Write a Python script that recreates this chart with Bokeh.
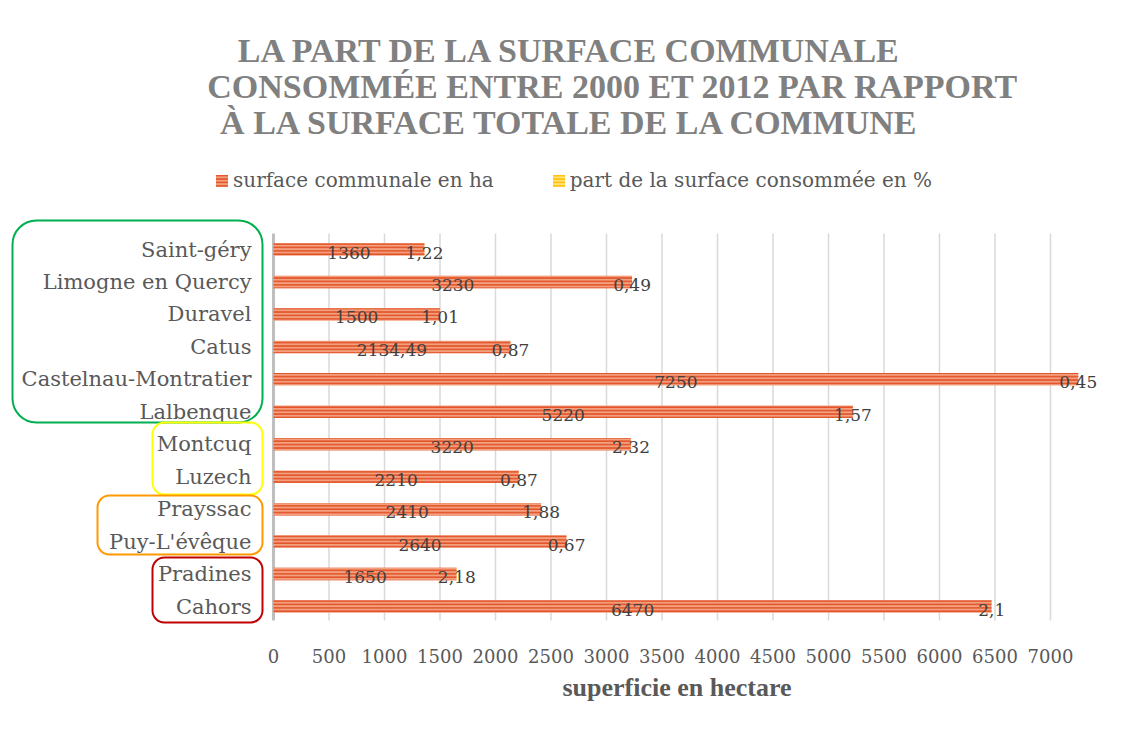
import pandas as pd
from bokeh.plotting import figure
from bokeh.models import (ColumnDataSource, FixedTicker, Label, Legend, LegendItem,
                          Range1d, Title)
from bokeh.core.properties import value
from bokeh.embed import file_html
from bokeh.resources import INLINE

# ---------------- data ----------------
categories = ["Saint-géry", "Limogne en Quercy", "Duravel", "Catus",
              "Castelnau-Montratier", "Lalbenque", "Montcuq", "Luzech",
              "Prayssac", "Puy-L'évêque", "Pradines", "Cahors"]
surface_ha = [1360, 3230, 1500, 2134.49, 7250, 5220, 3220, 2210, 2410, 2640, 1650, 6470]
part_pct = [1.22, 0.49, 1.01, 0.87, 0.45, 1.57, 2.32, 0.87, 1.88, 0.67, 2.18, 2.1]
x_ticks = list(range(0, 7001, 500))
series_names = ["surface communale en ha", "part de la surface consommée en %"]
title_lines = ["LA PART DE LA SURFACE COMMUNALE",
               "CONSOMMÉE ENTRE 2000 ET 2012 PAR RAPPORT",
               "À LA SURFACE TOTALE DE LA COMMUNE"]
x_axis_title = "superficie en hectare"
# groups of communes framed by rounded boxes: (first index, last index, colour)
groups = [(0, 5, "#00B050"), (6, 7, "#FFFF00"), (8, 9, "#FF9900"), (10, 11, "#C00000")]


def fmt(v):
    if float(v).is_integer():
        return str(int(v))
    return str(v).replace(".", ",")


# ---------------- geometry (page pixels) ----------------
W, H = 1112, 718
OFF = 0                    # page offset of the canvas
BOTTOM_BORDER = 90
ZERO_PX = 273.0            # page x of value 0
PX_PER_HA = 777.0 / 7000   # page px per hectare
ROW0_PX = 606.0            # page y of the lowest row
ROW_PX = 32.45             # row pitch
frame_top_page = OFF
frame_bottom_page = OFF + H - BOTTOM_BORDER


def cx(px):
    return (px - ZERO_PX) / PX_PER_HA


def cy(py):
    return (ROW0_PX - py) / ROW_PX


n = len(categories)
df = pd.DataFrame({"cat": categories, "surface": surface_ha, "part": part_pct})
df["y"] = [n - 1 - i for i in range(n)]
df["end"] = df["surface"] + df["part"]
df["mid"] = df["surface"] / 2
df["pmid"] = df["surface"] + df["part"] / 2
df["slbl"] = [fmt(v) for v in surface_ha]
df["plbl"] = [fmt(v) for v in part_pct]
src = ColumnDataSource(df)

p = figure(width=W, height=H, output_backend="svg", toolbar_location=None,
           x_range=Range1d(cx(OFF), cx(OFF + W)),
           y_range=Range1d(cy(frame_bottom_page), cy(frame_top_page)),
           y_axis_location=None, x_axis_location="below",
           min_border_left=0, min_border_right=0, min_border_top=0,
           min_border_bottom=BOTTOM_BORDER)
p.outline_line_color = None
p.grid.visible = False
p.background_fill_color = "white"
p.border_fill_color = "white"

y_lo, y_hi = cy(620), cy(233)
# gridlines
p.segment(x0=x_ticks[1:], y0=y_lo, x1=x_ticks[1:], y1=y_hi,
          line_color="#D9D9D9", line_width=1.5)
# vertical category axis line
p.segment(x0=[0], y0=y_lo, x1=[0], y1=y_hi, line_color="#BFBFBF", line_width=3)

bar_h = 12.5 / ROW_PX
r1 = p.hbar(y="y", left=0, right="surface", height=bar_h, source=src,
            fill_color="#F3A07F", line_color=None,
            hatch_pattern="horizontal_line", hatch_color="#E2542A",
            hatch_scale=3.4, hatch_weight=1.7)
r2 = p.hbar(y="y", left="surface", right="end", height=bar_h, source=src,
            fill_color="#FFE27A", line_color=None,
            hatch_pattern="horizontal_line", hatch_color="#FFC000",
            hatch_scale=3.4, hatch_weight=1.7)

# data labels
p.text(x="mid", y="y", text="slbl", source=src, text_align="center",
       text_baseline="middle", y_offset=3, text_font=value("DejaVu Serif"),
       text_font_size="17px", text_color="#404040")
p.text(x="pmid", y="y", text="plbl", source=src, text_align="center",
       text_baseline="middle", y_offset=3, text_font=value("DejaVu Serif"),
       text_font_size="17px", text_color="#404040")

# category labels
p.text(x=cx(251), y="y", text="cat", source=src, text_align="right",
       text_baseline="middle", text_font=value("DejaVu Serif"),
       text_font_size="21px", text_color="#595959")

# rounded group boxes (page px extents: left, top, bottom, radius)
box_geom = [(12, 220, 422, 24), (152, 422, 494, 12), (97, 495, 554, 12), (152, 557, 622, 12)]
for (g0, g1, col), (bl, bt, bb, rad) in zip(groups, box_geom):
    p.quad(left=[cx(bl)], right=[cx(262)], top=[cy(bt)], bottom=[cy(bb)],
           fill_alpha=0, line_color=col, line_width=2, border_radius=rad)

# title
for line, (tx, ty) in zip(title_lines, [(570, 50), (612, 86), (570, 122)]):
    p.add_layout(Label(x=cx(tx), y=cy(ty), text=line, text_align="center",
                       text_baseline="middle", text_font="Liberation Serif",
                       text_font_style="bold", text_font_size="34px",
                       text_color="#808080"))

# legend
legend = Legend(items=[LegendItem(label=series_names[0], renderers=[r1]),
                       LegendItem(label=series_names[1], renderers=[r2])],
                orientation="horizontal", location=(214 - OFF, frame_bottom_page - 192),
                glyph_width=15, glyph_height=15, label_standoff=4, spacing=57,
                padding=0, margin=0, border_line_color=None,
                background_fill_alpha=0, label_text_font="DejaVu Serif",
                label_text_font_size="20px", label_text_color="#595959",
                label_height=20)
p.add_layout(legend, "center")

# x axis
ax = p.xaxis[0]
ax.ticker = FixedTicker(ticks=x_ticks)
ax.axis_line_color = None
ax.major_tick_line_color = None
ax.minor_tick_line_color = None
ax.major_label_standoff = 14
ax.major_label_text_font = "DejaVu Serif"
ax.major_label_text_font_size = "18px"
ax.major_label_text_color = "#595959"

# axis title, centred under the plotted area (not the whole canvas) as in the original
p.add_layout(Title(text=x_axis_title, align="left", offset=562, standoff=10,
                   text_font="Liberation Serif", text_font_style="bold",
                   text_font_size="26px", text_color="#595959"), "below")

open("out.html", "w").write(file_html(p, INLINE))
